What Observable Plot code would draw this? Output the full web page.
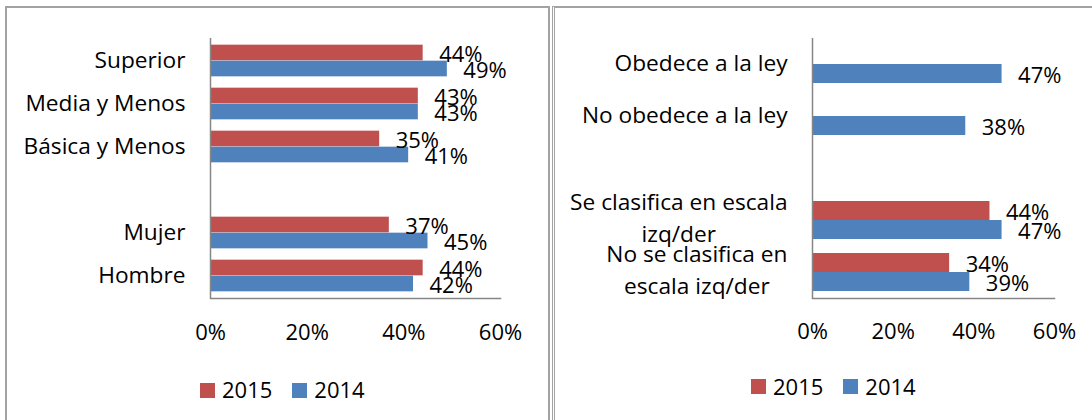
<!DOCTYPE html>
<html>
<head>
<meta charset="utf-8">
<script src="https://cdn.jsdelivr.net/npm/d3@7"></script>
<script src="https://cdn.jsdelivr.net/npm/@observablehq/plot@0.6"></script>
<style>
  html, body { margin: 0; padding: 0; background: #fff; }
  body { width: 1092px; height: 420px; overflow: hidden; font-family: "Open Sans", sans-serif; }
  #wrap { position: relative; width: 1092px; height: 420px; overflow: hidden; }
  .panel { position: absolute; box-sizing: border-box; }
  #p1 { left: 5px; top: 6px; width: 545px; height: 440px; border: 2px solid #a3a3a3; }
  #p2 { left: 552px; top: 6px; width: 600px; height: 440px; border-top: 2px solid #a3a3a3; border-left: 3px double #a3a3a3; }
  .chart { position: absolute; top: 0; }
  .sw { position: absolute; width: 15px; height: 15px; }
  .lt { position: absolute; font-size: 22px; line-height: 22px; color: #000; white-space: nowrap; }
</style>
</head>
<body>
<div id="wrap">
  <div class="panel" id="p1"></div>
  <div class="panel" id="p2"></div>
</div>
<script>
// ---- data ----
const years = ["2015", "2014"];
const xTicks = [0, 0.2, 0.4, 0.6];

const leftCategories = ["Superior", "Media y Menos", "Básica y Menos", "", "Mujer", "Hombre"];
const leftLabelLines = [["Superior"], ["Media y Menos"], ["Básica y Menos"], [], ["Mujer"], ["Hombre"]];
const left2015 = [0.44, 0.43, 0.35, null, 0.37, 0.44];
const left2014 = [0.49, 0.43, 0.41, null, 0.45, 0.42];

const rightCategories = ["Obedece a la ley", "No obedece a la ley", "", "Se clasifica en escala izq/der", "No se clasifica en escala izq/der"];
const rightLabelLines = [["Obedece a la ley"], ["No obedece a la ley"], [], ["Se clasifica en escala", "izq/der"], ["No se clasifica en", "escala izq/der"]];
const right2015 = [null, null, null, 0.44, 0.34];
const right2014 = [0.47, 0.38, null, 0.47, 0.39];

// ---- style ----
const FS = 22;
const LFS = 22.7;
const FONT = "'Open Sans', sans-serif";
const COLORS = {"2015": "#C0504D", "2014": "#4F81BD"};
const AXIS = "#868686";
const fmt = d3.format(".0%");

const ctx = document.createElement("canvas").getContext("2d");
const measure = (t, fs = FS) => { ctx.font = `${fs}px 'Open Sans'`; return ctx.measureText(t).width; };

function makeChart(o) {
  const n = o.categories.length;
  const step = (o.height - o.mt - o.mb) / n;
  const outer = (step - 2 * o.barH) / 2;
  const rows = o.categories.map((c, i) => ({c, v15: o.s2015[i], v14: o.s2014[i]}));
  const r15 = rows.filter(d => d.v15 != null);
  const r14 = rows.filter(d => d.v14 != null);
  const labelMarks = o.categories.map((c, i) => {
    const lines = o.labelLines[i];
    if (!lines.length) return null;
    const w = d3.max(lines, t => measure(t, LFS));
    const multi = lines.length > 1;
    return Plot.text([c], {
      y: d => d, frameAnchor: "left", text: () => lines.join("\n"),
      textAnchor: "middle", lineHeight: multi ? 1.45 : 1, fontSize: LFS,
      dx: -(o.labelGap + w / 2), dy: multi ? -5 : -0.5, fill: "#000"
    });
  }).filter(Boolean);
  return Plot.plot({
    width: o.width, height: o.height,
    marginTop: o.mt, marginBottom: o.mb, marginLeft: o.ml, marginRight: o.mr,
    style: {fontFamily: FONT, fontSize: FS + "px", background: "transparent", color: "#000", overflow: "visible"},
    x: {domain: [0, 0.6]},
    y: {domain: o.categories, padding: 0, axis: null},
    marks: [
      Plot.barX(r15, {x: "v15", y: "c", fill: COLORS["2015"], insetTop: outer, insetBottom: outer + o.barH}),
      Plot.barX(r14, {x: "v14", y: "c", fill: COLORS["2014"], insetTop: outer + o.barH, insetBottom: outer}),
      Plot.ruleX([0], {stroke: AXIS, strokeWidth: 1.5}),
      Plot.frame({anchor: "bottom", stroke: AXIS, strokeWidth: 1.5}),
      Plot.axisX({ticks: xTicks, tickFormat: fmt, tickSize: 0, tickPadding: o.tickPad, fill: "#000"}),
      Plot.text(r15, {x: "v15", y: "c", text: d => fmt(d.v15), dx: 16, dy: -o.barH / 2 + 1.5, textAnchor: "start", fill: "#000"}),
      Plot.text(r14, {x: "v14", y: "c", text: d => fmt(d.v14), dx: 16, dy: o.barH / 2 + 2, textAnchor: "start", fill: "#000"}),
      ...labelMarks
    ]
  });
}

function addLegend(wrap, x0, cy) {
  let x = x0;
  years.forEach((y) => {
    const sw = document.createElement("div");
    sw.className = "sw";
    sw.style.left = x + "px";
    sw.style.top = (cy - 7.5) + "px";
    sw.style.background = COLORS[y];
    wrap.appendChild(sw);
    const t = document.createElement("div");
    t.className = "lt";
    t.textContent = y;
    t.style.left = (x + 22) + "px";
    t.style.top = (cy - 12) + "px";
    wrap.appendChild(t);
    x += 22 + measure(y) + 20;
  });
}

const wrap = document.getElementById("wrap");

const c1 = makeChart({
  categories: leftCategories, labelLines: leftLabelLines, s2015: left2015, s2014: left2014,
  width: 550, height: 350, mt: 38, mb: 52, ml: 210, mr: 50, barH: 16, tickPad: 26, labelGap: 25
});
c1.classList.add("chart");
c1.style.left = "0px";
wrap.appendChild(c1);

const c2 = makeChart({
  categories: rightCategories, labelLines: rightLabelLines, s2015: right2015, s2014: right2014,
  width: 540, height: 350, mt: 38, mb: 52, ml: 260, mr: 38, barH: 19, tickPad: 25, labelGap: 25
});
c2.classList.add("chart");
c2.style.left = "552px";
wrap.appendChild(c2);

addLegend(wrap, 200, 390);
addLegend(wrap, 751, 386.5);
</script>
</body>
</html>
